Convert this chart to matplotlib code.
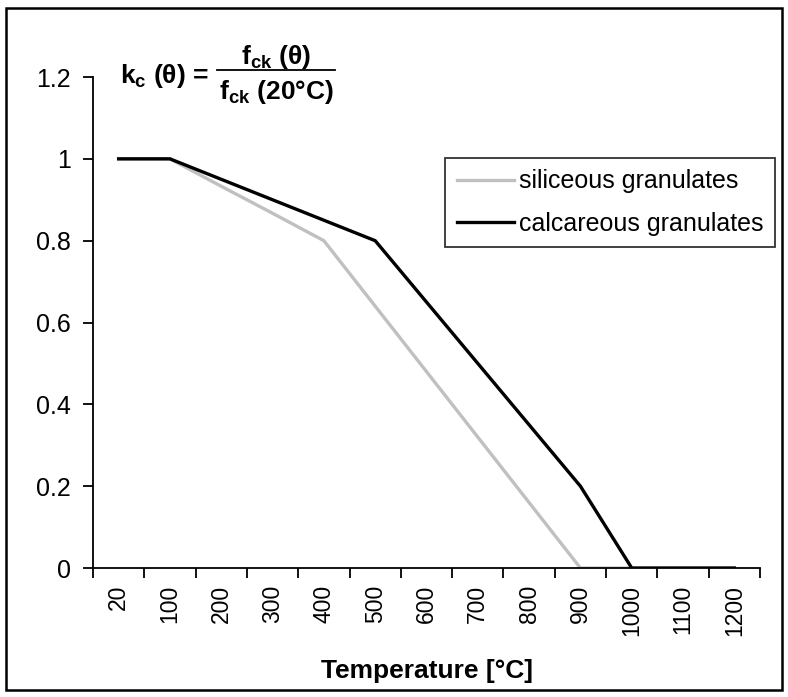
import matplotlib.pyplot as plt
import matplotlib.patches as patches
from matplotlib.lines import Line2D
import numpy as np

plt.rcParams['font.family'] = ['Liberation Sans', 'DejaVu Sans']
plt.rcParams['mathtext.fontset'] = 'custom'
plt.rcParams['mathtext.rm'] = 'Liberation Sans'
plt.rcParams['mathtext.bf'] = 'Liberation Sans:bold'
plt.rcParams['mathtext.it'] = 'Liberation Sans:italic'

# data
temps = ['20', '100', '200', '300', '400', '500', '600', '700', '800', '900', '1000', '1100', '1200']
siliceous = [1, 1, 0.933, 0.867, 0.8, 0.64, 0.48, 0.32, 0.16, 0, 0, 0, 0]
calcareous = [1, 1, 0.95, 0.9, 0.85, 0.8, 0.65, 0.5, 0.35, 0.2, 0, 0, 0]
y_ticks = [0, 0.2, 0.4, 0.6, 0.8, 1.0, 1.2]
y_labels = ['0', '0.2', '0.4', '0.6', '0.8', '1', '1.2']

C_GRAY = '#c0c0c0'
C_BLACK = '#000000'
W, H = 788, 697

fig = plt.figure(figsize=(7.88, 6.97), dpi=100, facecolor='white')
ax = fig.add_axes([0.118, 0.185, 0.8465, 0.7045])

x = np.arange(len(temps))
ax.plot(x, siliceous, color=C_GRAY, linewidth=2.4, label='siliceous granulates', zorder=2,
        solid_joinstyle='miter')
ax.plot(x, calcareous, color=C_BLACK, linewidth=2.4, label='calcareous granulates', zorder=3,
        solid_joinstyle='miter')

ax.set_xlim(-0.5, len(temps) - 0.5)
ax.set_ylim(0, 1.2)

# category ticks between points, labels at points
ax.set_xticks(np.arange(len(temps) + 1) - 0.5)
ax.set_xticklabels([])
ax.set_xticks(x, minor=True)
ax.set_xticklabels(temps, minor=True, rotation=90, fontsize=16.5)
ax.tick_params(axis='x', which='major', direction='out', length=7, width=1.3, color=C_BLACK)
ax.tick_params(axis='x', which='minor', length=0, pad=12)

ax.set_yticks(y_ticks)
ax.set_yticklabels(y_labels, fontsize=18)
ax.tick_params(axis='y', direction='out', length=7, width=1.3, pad=9)

for s in ['top', 'right']:
    ax.spines[s].set_visible(False)
for s in ['left', 'bottom']:
    ax.spines[s].set_linewidth(1.3)
    ax.spines[s].set_color(C_BLACK)

ax.set_xlabel('Temperature [°C]', fontsize=19, fontweight='bold', labelpad=17)

leg = fig.legend(loc='upper right', bbox_to_anchor=(0.9835, 0.7733), fontsize=18,
                 frameon=True, fancybox=False, edgecolor=C_BLACK, handlelength=2.3,
                 handletextpad=0.2, borderpad=0.45, labelspacing=0.75, borderaxespad=0)
leg.get_frame().set_linewidth(1.3)

# formula k_c(θ) = f_ck(θ) / f_ck(20°C)
fig.text(120 / W, 1 - 83 / H, r'$\mathbf{k_c}$ (θ) =', fontsize=19, fontweight='bold',
         ha='left', va='baseline')
fig.text(276 / W, 1 - 64 / H, r'$\mathbf{f_{ck}}$ (θ)', fontsize=19, fontweight='bold',
         ha='center', va='baseline')
fig.add_artist(Line2D([217 / W, 335 / W], [1 - 70 / H, 1 - 70 / H], color=C_BLACK,
                      linewidth=1.3, transform=fig.transFigure))
fig.text(276 / W, 1 - 99 / H, r'$\mathbf{f_{ck}}$ (20°C)', fontsize=19, fontweight='bold',
         ha='center', va='baseline')

# outer border
fig.patches.append(patches.Rectangle((6 / W, 7 / H), 776 / W, 682 / H,
                                     transform=fig.transFigure, fill=False,
                                     edgecolor=C_BLACK, linewidth=1.8))

fig.savefig('out.png', dpi=100)
